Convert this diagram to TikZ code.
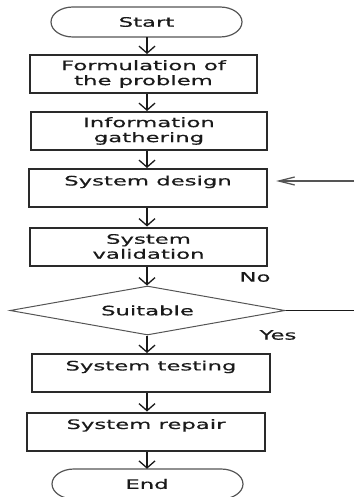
\documentclass[tikz,border=0pt]{standalone}
\usepackage{fontspec}
\newfontfamily\flowfont[FakeStretch=1.75,FakeBold=0.6]{DejaVu Sans}
\usetikzlibrary{arrows.meta,shapes.geometric}
\definecolor{ink}{HTML}{1A1A1A}
\definecolor{edge}{HTML}{2A2A2A}
\definecolor{thin}{HTML}{555555}
\tikzset{
  procbox/.style={draw=edge, line width=2pt, minimum height=38pt, inner sep=0pt,
    align=center, font=\flowfont\fontsize{13pt}{15pt}\selectfont, text=ink},
  termtext/.style={minimum width=191pt, minimum height=30pt, inner sep=0pt,
    font=\flowfont\fontsize{13pt}{15pt}\selectfont, text=ink},
  termline/.style={draw=thin, line width=1.2pt},
  decision/.style={diamond, aspect=5.6, draw=thin, line width=1pt, minimum width=275pt, minimum height=49pt,
    inner sep=0pt, font=\flowfont\fontsize{13pt}{15pt}\selectfont, text=ink},
  flow/.style={draw=ink, line width=1.8pt, -{Straight Barb[length=7pt,width=16pt,line width=1.3pt]}},
  backflow/.style={draw=thin, line width=1.5pt, -{Straight Barb[length=16pt,width=8pt,line width=1.3pt]}},
  plainline/.style={draw=ink, line width=1pt},
  lbl/.style={font=\flowfont\fontsize{13pt}{15pt}\selectfont, text=ink, inner sep=0pt}
}
\begin{document}
\begin{tikzpicture}[x=1pt,y=-1pt]
\useasboundingbox (0,0) rectangle (354,497);
\coordinate (axis) at (147,0);
% terminals
\node[termtext] (start) at (146.5,22) {Start};
\draw[termline] (73,7) -- (220,7) arc[start angle=-90,end angle=90,x radius=22,y radius=15]
  -- (73,37) arc[start angle=90,end angle=270,x radius=22,y radius=15] -- cycle;
\node[termtext] (end) at (147,484) {End};
\draw[termline] (74,469) -- (221,469) arc[start angle=-90,end angle=90,x radius=22,y radius=15]
  -- (74,499) arc[start angle=90,end angle=270,x radius=22,y radius=15] -- cycle;
% process boxes
\node[procbox, minimum width=227pt] (form) at (143.5,74) {Formulation of\\the problem};
\node[procbox, minimum width=236pt] (info) at (149,131) {Information\\gathering};
\node[procbox, minimum width=238pt] (design) at (148,188) {System design\\~};
\node[procbox, minimum width=237pt] (valid) at (148.5,246.5) {System\\validation};
\node[decision] (suit) at (147.5,310.5) {Suitable};
\node[procbox, minimum width=238pt] (test) at (151,373) {System testing\\~};
\node[procbox, minimum width=238pt] (repair) at (146,431.5) {System repair\\~};
% labels
\node[lbl] (no) at (255,277) {No};
\node[lbl] (yes) at (278,335) {Yes};
% free ends
\coordinate (fbin) at (354,181);
\coordinate (fbtip) at (276,181);
\coordinate (noout) at (354,310.5);
% connectors
\draw[flow] (start.south -| axis) -- (form.north -| axis);
\draw[flow] (form.south -| axis) -- (info.north -| axis);
\draw[flow] (info.south -| axis) -- (design.north -| axis);
\draw[flow] (design.south -| axis) -- (valid.north -| axis);
\draw[flow] (valid.south -| axis) -- (suit.north -| axis);
\draw[flow] (suit.south -| axis) -- (test.north -| axis);
\draw[flow] (test.south -| axis) -- (repair.north -| axis);
\draw[flow] (repair.south -| axis) -- (end.north -| axis);
\draw[backflow] (fbin) -- (fbtip);
\draw[plainline] (suit.east) -- (noout);
\end{tikzpicture}
\end{document}
